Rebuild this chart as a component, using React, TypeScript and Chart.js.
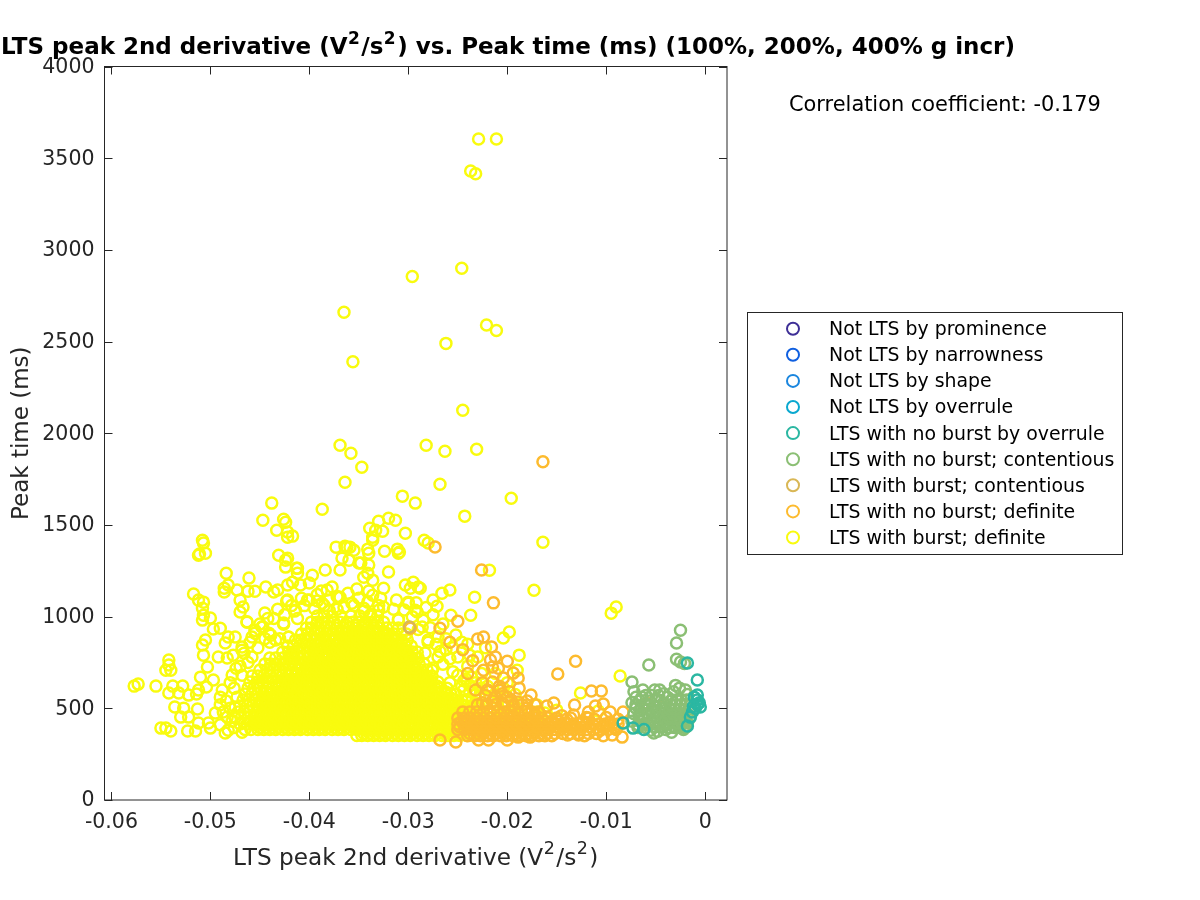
import React, { useEffect, useRef } from "react";
import { Chart, registerables } from "chart.js";

Chart.register(...registerables);

// x values are in units of 1e-4 V^2/s^2, y values in ms
type Pair = [number, number];
type Row = [number, number[]];

const titleParts = ["LTS peak 2nd derivative (V", "2", "/s", "2", ") vs. Peak time (ms) (100%, 200%, 400% g incr)"];
const xAxisParts = ["LTS peak 2nd derivative (V", "2", "/s", "2", ")"];
const yAxisLabel = "Peak time (ms)";
const correlationText = "Correlation coefficient: -0.179";
const xTickValues = [-0.06, -0.05, -0.04, -0.03, -0.02, -0.01, 0];
const xTickLabels = ["-0.06", "-0.05", "-0.04", "-0.03", "-0.02", "-0.01", "0"];
const yTickValues = [0, 500, 1000, 1500, 2000, 2500, 3000, 3500, 4000];
const seriesNames = [
  "Not LTS by prominence",
  "Not LTS by narrowness",
  "Not LTS by shape",
  "Not LTS by overrule",
  "LTS with no burst by overrule",
  "LTS with no burst; contentious",
  "LTS with burst; contentious",
  "LTS with no burst; definite",
  "LTS with burst; definite",
];
const seriesColors = ["#3e2f96", "#0f5fe0", "#1a86de", "#0aa8cf", "#2bb7a2", "#8bbf74", "#d9b755", "#fdbb2e", "#f9fb0e"];

const teal: Pair[] = [[-18,747],[-8,654],[-8,572],[-8,545],[-8,520],[-10,501],[-13,480],[-18,403],[-73,392],[-83,420],[-15,452],[-5,507],[-6,530],[-11,560],[-62,385],[-12,510]];

const greenPairs: Pair[] = [[-25,926],[-29,856],[-29,768],[-25,752],[-21,745],[-57,736],[-74,643],[-72,590],[-70,560],[-63,600],[-60,570],[-51,600],[-46,600],[-47,570],[-30,625],[-26,610],[-20,600],[-32,590],[-18,575],[-74,530],[-70,500],[-66,540],[-62,500],[-56,540],[-52,510],[-48,545],[-42,530],[-38,560],[-72,470],[-67,455],[-62,440],[-58,470],[-55,430],[-50,450],[-46,480],[-42,460],[-74,430],[-68,410],[-60,395],[-55,380],[-52,365],[-46,400],[-42,420],[-40,385],[-34,370],[-30,395],[-22,385],[-19,400],[-68,395],[-48,375],[-70,520],[-66,485],[-64,465],[-60,520],[-58,495],[-54,490],[-50,480],[-48,430],[-44,440],[-44,500],[-40,490],[-40,440],[-66,430],[-62,415],[-57,410],[-52,400],[-48,410],[-42,400],[-64,560],[-54,570],[-42,580]];
const greenRows: Row[] = [
  [395, [-36, -31, -26, -21]],
  [420, [-38, -33, -28, -23, -18]],
  [445, [-36, -31, -26, -21, -16]],
  [470, [-38, -33, -28, -23, -18]],
  [495, [-36, -31, -26, -21, -16]],
  [520, [-35, -30, -25, -20]],
  [545, [-34, -29, -24, -19]],
];

const burstContentious: Pair[] = [[-59,529],[-42,507],[-299,943]];

const orangePairs: Pair[] = [[-226,1254],[-214,1075],[-131,757],[-149,687],[-273,1380],[-298,937],[-250,975],[-268,937],[-230,878],[-224,889],[-216,835],[-212,780],[-200,757],[-217,763],[-224,708],[-215,725],[-209,719],[-194,692],[-189,665],[-215,643],[-208,599],[-188,610],[-176,572],[-189,534],[-200,561],[-132,518],[-115,594],[-105,594],[-103,523],[-111,512],[-118,480],[-96,480],[-83,480],[-153,529],[-160,512],[-133,463],[-96,425],[-84,343],[-94,354],[-128,354],[-139,354],[-177,343],[-189,343],[-200,327],[-219,327],[-229,327],[-252,316],[-268,327],[-83,420],[-106,381],[-164,1845],[-204,665],[-225,640],[-232,600],[-222,570],[-212,560],[-205,530],[-195,510],[-180,500],[-240,690],[-235,760],[-245,820],[-258,860],[-92,395],[-88,440],[-100,450],[-125,425],[-145,460],[-172,468],[-208,620],[-198,590],[-220,600],[-205,580],[-215,540],[-225,530],[-196,545],[-180,540],[-172,520],[-100,400],[-112,440],[-120,450],[-140,440],[-150,445]];
const orangeRows: Row[] = [
  [350, [-240,-233,-227,-220,-214,-207,-201,-194,-188,-181,-175,-168,-162,-155,-122,-103]],
  [363, [-238,-231,-225,-218,-212,-205,-199,-192,-186,-179,-173,-166,-160,-152,-144,-136,-128,-118,-110]],
  [385, [-250,-243,-237,-230,-224,-217,-211,-204,-198,-191,-185,-178,-172,-165,-159,-152,-146,-139,-133,-126,-120,-113,-107,-98,-90]],
  [398, [-248,-241,-235,-228,-222,-215,-209,-202,-196,-189,-183,-176,-170,-163,-157,-150,-144,-137,-131,-124,-116,-104]],
  [415, [-250,-244,-237,-231,-224,-218,-211,-205,-198,-192,-185,-179,-172,-166,-159,-153,-146,-140,-133,-127,-120,-114,-107,-101,-94,-88]],
  [430, [-246,-240,-233,-227,-220,-214,-207,-201,-194,-188,-181,-175,-168,-162,-155,-148]],
  [447, [-250,-243,-237,-230,-224,-217,-211,-204,-198,-191,-185,-178,-172,-165,-159,-150,-136,-118]],
  [480, [-245,-238,-231,-224,-217,-210,-203,-196,-189,-182,-175,-168]],
  [520, [-230,-221,-212,-203,-194,-185]],
];

const yellowPairs: Pair[] = [
  [-229,3605],[-211,3605],[-237,3430],[-232,3415],[-296,2855],[-246,2900],[-365,2660],[-221,2590],[-211,2560],[-262,2490],[-356,2390],[-245,2125],
  [-369,1935],[-282,1935],[-358,1891],[-263,1902],[-231,1913],[-347,1815],[-364,1733],[-268,1722],[-306,1657],[-196,1646],[-293,1619],[-438,1619],[-387,1586],[-243,1548],
  [-339,1482],[-333,1471],[-336,1433],[-326,1466],[-313,1526],[-320,1537],[-330,1520],[-303,1455],[-311,1368],[-309,1352],[-284,1417],[-280,1401],[-424,1515],[-426,1531],[-422,1461],[-433,1471],[-422,1433],[-417,1439],[-447,1526],[-508,1417],[-511,1341],[-431,1335],[-424,1308],[-413,1264],[-364,1384],[-359,1379],[-367,1319],[-360,1308],[-348,1292],[-340,1346],[-341,1368],[-288,1155],[-258,1145],[-266,1128],[-275,1090],[-271,1057],[-257,1008],[-295,1188],[-303,1172],[-164,1406],[-173,1144],[-218,1253],
  [-577,621],[-573,632],[-555,621],[-542,763],[-542,736],[-545,708],[-540,708],[-538,621],[-528,621],[-542,583],[-532,583],[-522,572],[-514,578],[-536,507],[-527,501],[-513,496],[-530,452],[-522,452],[-550,392],[-545,392],[-540,376],[-523,376],[-515,376],[-512,420],[-502,420],[-500,392],[-485,365],[-482,381],[-468,370],[-495,474],[-487,480],[-483,452],[-475,507],[-473,561],
  [-510,670],[-503,725],[-497,654],[-504,616],[-512,600],[-488,600],[-490,561],[-474,719],[-478,681],[-492,780],[-483,774],[-477,790],[-507,790],[-508,845],[-505,872],[-485,856],[-482,889],[-475,889],[-468,835],[-497,932],[-490,937],[-463,970],[-458,889],[-448,943],[-439,899],[-426,959],[-421,889],
  [-500,992],[-508,981],[-507,1008],[-508,1046],[-507,1079],[-512,1090],[-517,1123],[-470,1090],[-467,1052],[-470,1025],[-486,1134],[-486,1155],[-482,1172],[-484,1237],[-461,1210],[-473,1145],[-462,1139],[-455,1139],[-444,1161],[-436,1134],[-432,1145],[-423,1085],[-422,1172],[-417,1188],[-409,1172],[-400,1183],[-384,1254],[-369,1254],[-412,1264],[-424,1270],[-422,1319],[-412,1237],[-397,1226],[-382,1145],[-377,1161],[-361,1128],[-369,1106],[-336,1117],[-325,1155],[-320,1243],[-341,1237],[-336,1199],[-345,1215],[-350,1292],[-340,1281],[-336,1417],[-324,1357],[-310,1346],[-373,1379],[-362,1379],[-355,1362],[-512,1335],[-505,1346],[-507,1401],
  [-298,1155],[-290,1161],[-300,1079],[-304,1036],[-291,1025],[-310,986],[-325,1052],[-341,1079],[-400,1090],[-392,1120],[-405,1060],[-385,1060],[-372,1040],[-355,1060],[-345,1030],[-415,1030],[-425,1010],[-432,1040],[-445,1020],[-436,990],[-450,960],[-412,990],[-380,1090],[-350,1100],[-330,1060],[-315,1040],[-282,1050],[-275,1010],[-285,980],[-265,960],[-252,900],[-270,890],[-280,860],[-290,930],[-345,960],[-265,740],[-275,720],[-262,820],[-250,780],[-240,730],[-255,700],[-242,660],[-232,640],[-246,620],[-258,640],[-270,780],
  [-237,1008],[-233,1106],[-204,883],[-198,916],[-188,790],[-190,708],[-197,398],[-126,583],[-108,485],[-86,676],[-90,1052],[-95,1019],[-170,518],[-170,480],[-170,455],[-162,474],[-150,490],[-200,530],[-212,690],[-220,620],[-228,560],[-222,520],[-215,500],[-205,480],[-195,460],[-215,450],[-205,430],[-218,410],[-225,470],[-210,575],[-200,640],[-230,780],[-222,830],[-240,850],
  [-392,1085],[-372,1110],[-408,1100],[-418,1060],[-388,1140],[-352,1150],[-340,1140],[-328,1100],[-312,1090],[-292,1075],[-296,1000],[-278,940],[-272,850],[-262,880],[-255,830],[-246,860],[-238,790],[-258,770],[-268,810],[-442,990],[-455,925],[-445,880],[-460,860],[-452,830],[-440,860],[-430,880],[-466,800],[-458,780],[-462,750],[-470,730],[-468,680],[-480,640],[-476,610],[-484,540],[-480,500],[-490,520],[-478,430],[-490,410],[-476,395],
  [-422,1090],[-463,972],[-426,965],[-447,945],[-455,910],[-441,910],[-421,888],[-434,872],[-468,817],[-414,1035],[-402,1090],[-387,1073],[-371,1106],[-357,1073],[-330,1035],[-310,981],[-293,1035],[-286,943],[-280,872],[-300,1073],[-283,801],[-276,708],[-395,1045],[-380,1035],[-365,1050],[-345,1045],[-338,1012],
  [-240,545],[-236,500],[-232,530],[-228,505],[-224,445],[-222,395],[-226,360],[-232,405],[-236,430],[-240,470],[-218,470],[-214,425],[-212,385],[-210,520],[-206,455],[-202,405],[-198,480],[-196,430],[-192,510],[-186,470],[-184,420],[-180,445],[-176,400],[-244,600],[-238,590],[-232,575],[-226,610],[-218,555],[-204,610],[-192,575],[-250,680],[-244,650],[-236,670],[-226,690],[-238,625],
];
const yellowRows: Row[] = [
  [352, [-352,-347,-341,-335,-329,-323,-316,-310,-304,-298,-291,-285,-279,-273,-266,-260,-254,-248,-241,-235]],
  [385, [-465,-459,-452,-446,-440,-434,-427,-421,-415,-409,-402,-396,-390,-384,-377,-371,-365,-358,-352,-346,-340,-333,-327,-321,-314,-308,-302,-296,-289,-283,-277,-270,-264,-258,-252,-245,-239,-233,-227]],
  [415, [-470,-463,-457,-451,-444,-438,-432,-426,-419,-413,-407,-400,-394,-388,-382,-375,-369,-363,-356,-350,-344,-337,-331,-325,-318,-312,-306,-300,-293,-287,-281,-274,-268,-262,-255,-249,-243,-236,-230,-224]],
  [447, [-475,-469,-462,-456,-450,-443,-437,-431,-425,-418,-412,-406,-399,-393,-387,-380,-374,-368,-361,-355,-349,-343,-336,-330,-324,-317,-311,-305,-298,-292,-286,-280,-273,-267,-261,-254,-248,-242,-235,-229]],
  [480, [-472,-466,-460,-453,-447,-441,-434,-428,-422,-416,-409,-403,-397,-390,-384,-378,-371,-365,-359,-352,-346,-340,-334,-327,-321,-315,-308,-302,-296,-289,-283,-277,-271,-264,-258,-252,-245,-239,-232]],
  [512, [-470,-463,-457,-451,-445,-438,-432,-426,-419,-413,-407,-401,-394,-388,-382,-375,-369,-363,-356,-350,-344,-338,-331,-325,-319,-312,-306,-300,-293,-287,-281,-275,-268,-262,-256,-249,-243,-237]],
  [545, [-467,-461,-454,-448,-442,-435,-429,-423,-417,-410,-404,-398,-391,-385,-379,-372,-366,-360,-354,-347,-341,-335,-328,-322,-316,-309,-303,-297,-291,-284,-278,-272,-265,-259,-253,-246,-242]],
  [578, [-465,-458,-452,-446,-439,-433,-427,-420,-414,-408,-401,-395,-389,-383,-376,-370,-364,-357,-351,-345,-338,-332,-326,-320,-313,-307,-301,-294,-288,-282,-275,-269,-263,-257,-252]],
  [610, [-462,-456,-450,-443,-437,-431,-424,-418,-412,-406,-399,-393,-387,-380,-374,-368,-361,-355,-349,-343,-336,-330,-324,-317,-311,-305,-298,-292,-286,-280,-273,-267,-261]],
  [643, [-460,-453,-447,-441,-434,-428,-422,-415,-409,-403,-397,-390,-384,-378,-371,-365,-359,-352,-346,-340,-334,-327,-321,-315,-308,-302,-296,-289,-283,-277,-270]],
  [676, [-458,-452,-446,-439,-433,-427,-421,-414,-408,-402,-395,-389,-383,-376,-370,-364,-358,-351,-345,-339,-332,-326,-320,-313,-307,-301,-295,-288,-282,-276]],
  [709, [-450,-443,-437,-431,-424,-418,-412,-405,-399,-393,-387,-380,-374,-368,-361,-355,-349,-342,-336,-330,-324,-317,-311,-305,-298,-292,-287,-281]],
  [742, [-445,-439,-433,-426,-420,-414,-408,-401,-395,-389,-382,-376,-370,-363,-357,-351,-345,-338,-332,-326,-319,-313,-307,-301,-295,-289,-284]],
  [774, [-440,-434,-427,-421,-415,-409,-402,-396,-390,-383,-377,-371,-364,-358,-352,-346,-339,-333,-327,-320,-314,-308,-302,-296,-290]],
  [807, [-427,-421,-415,-409,-402,-396,-390,-383,-377,-371,-364,-358,-352,-346,-339,-333,-327,-320,-314,-308,-302,-296,-291]],
  [840, [-422,-416,-410,-403,-397,-391,-385,-378,-372,-366,-359,-353,-347,-340,-334,-328,-322,-315,-309,-303,-297]],
  [872, [-414,-408,-402,-395,-389,-383,-376,-370,-364,-357,-351,-345,-339,-332,-326,-320,-313,-307,-301]],
  [905, [-408,-402,-395,-389,-383,-377,-370,-364,-358,-351,-345,-339,-333,-326,-320,-314,-307,-302]],
  [938, [-403,-398,-391,-385,-379,-373,-366,-360,-354,-347,-341,-335,-329,-322,-316,-310]],
  [970, [-398,-392,-387,-381,-375,-369,-362,-356,-350,-343,-337,-331,-325]],
  [1003, [-392,-385,-377,-368,-358,-349,-339,-331]],
  // second, offset pass over the solid part of the cloud
  [363, [-345,-339,-333,-327,-321,-314,-308,-302,-296,-289,-283,-277,-271,-264,-258,-252,-246,-239]],
  [396, [-450,-444,-438,-432,-425,-419,-413,-407,-400,-394,-388,-382,-375,-369,-363,-356,-350,-344,-338,-331,-325,-319,-312,-306,-300,-294,-287,-281,-275,-268,-262,-256,-250,-243,-237]],
  [426, [-455,-449,-442,-436,-430,-424,-417,-411,-405,-398,-392,-386,-380,-373,-367,-361,-354,-348,-342,-335,-329,-323,-316,-310,-304,-298,-291,-285,-279,-272,-266,-260,-253,-247,-241,-234]],
  [458, [-454,-448,-441,-435,-429,-423,-416,-410,-404,-397,-391,-385,-378,-372,-366,-359,-353,-347,-341,-334,-328,-322,-315,-309,-303,-296,-290,-284,-278,-271,-265,-259,-252,-246,-240]],
  [491, [-451,-445,-439,-432,-426,-420,-414,-407,-401,-395,-388,-382,-376,-369,-363,-357,-350,-344,-338,-332,-325,-319,-313,-306,-300,-294,-287,-281,-275,-269,-262,-256,-250,-243]],
  [523, [-449,-443,-436,-430,-424,-417,-411,-405,-399,-392,-386,-380,-373,-367,-361,-354,-348,-342,-336,-329,-323,-317,-310,-304,-298,-291,-285,-279,-273,-266,-260,-254,-247]],
  [556, [-446,-440,-433,-427,-421,-415,-408,-402,-396,-389,-383,-377,-370,-364,-358,-352,-345,-339,-333,-326,-320,-314,-307,-301,-295,-289,-282,-276,-270,-263,-257]],
  [589, [-444,-437,-431,-425,-418,-412,-406,-399,-393,-387,-381,-374,-368,-362,-355,-349,-343,-336,-330,-324,-318,-311,-305,-299,-292,-286,-280,-273,-267,-262]],
  [621, [-430,-422,-416,-410,-404,-397,-391,-385,-378,-372,-366,-359,-353,-347,-341,-334,-328,-322,-315,-309,-303,-296,-290,-284,-278,-271]],
  [654, [-426,-419,-413,-407,-400,-394,-388,-382,-375,-369,-363,-356,-350,-344,-337,-331,-325,-319,-312,-306,-300,-293,-287,-281]],
  [687, [-418,-412,-406,-400,-394,-388,-382,-375,-369,-363,-356,-350,-344,-338,-331,-325,-319,-312,-306,-300,-293,-288]],
  [720, [-408,-401,-394,-388,-382,-375,-369,-363,-356,-350,-344,-338,-331,-325,-319,-312,-306,-300,-293]],
  [753, [-404,-396,-388,-381,-374,-368,-362,-355,-349,-343,-336,-330,-324,-318,-311,-305,-299]],
  [785, [-400,-392,-384,-376,-370,-363,-357,-351,-344,-338,-332,-325,-319,-313,-307,-302]],
  [818, [-396,-388,-379,-372,-366,-360,-353,-347,-341,-335,-328,-322,-316,-309,-304]],
  [851, [-390,-381,-371,-365,-359,-352,-346,-340,-333,-327,-321,-315,-310]],
  [884, [-385,-373,-365,-358,-352,-346,-340,-333,-327,-321,-316]],
  [916, [-372,-362,-355,-348,-342,-336,-330,-324]],
];

function toPoints(pairs: Pair[], rows: Row[] = []) {
  const out = pairs.map(([x, y]) => ({ x: x / 10000, y }));
  rows.forEach(([y, xs]) => xs.forEach((x) => out.push({ x: x / 10000, y })));
  return out;
}

const seriesData = [
  [],
  [],
  [],
  [],
  toPoints(teal),
  toPoints(greenPairs, greenRows),
  toPoints(burstContentious),
  toPoints(orangePairs, orangeRows),
  toPoints(yellowPairs, yellowRows),
];

const INK = "#262626";
const FONT = "'DejaVu Sans'";

function drawMath(ctx: any, parts: string[], x: number, baseline: number, size: number, weight: string, supSize: number, raise: number) {
  let cx = x;
  ctx.textBaseline = "alphabetic";
  ctx.textAlign = "left";
  parts.forEach((t) => {
    const isSup = t === "2";
    ctx.font = `${weight} ${isSup ? supSize : size}px ${FONT}`;
    ctx.fillText(t, isSup ? cx + 0.5 : cx, isSup ? baseline - raise : baseline);
    cx += ctx.measureText(t).width + (isSup ? 2 : 0);
  });
}

const decorations = {
  id: "decorations",
  afterDraw(chart: any) {
    const { ctx, chartArea: a, scales } = chart;
    ctx.save();
    ctx.strokeStyle = INK;
    ctx.lineWidth = 1;
    ctx.strokeRect(a.left, a.top, a.right - a.left, a.bottom - a.top);
    ctx.beginPath();
    xTickValues.forEach((v) => {
      const p = Math.round(scales.x.getPixelForValue(v)) + 0.5;
      ctx.moveTo(p, a.bottom);
      ctx.lineTo(p, a.bottom - 8);
      ctx.moveTo(p, a.top);
      ctx.lineTo(p, a.top + 8);
    });
    yTickValues.forEach((v) => {
      const p = Math.round(scales.y.getPixelForValue(v)) + 0.5;
      ctx.moveTo(a.left, p);
      ctx.lineTo(a.left + 8, p);
      ctx.moveTo(a.right, p);
      ctx.lineTo(a.right - 8, p);
    });
    ctx.stroke();

    ctx.fillStyle = "#000";
    drawMath(ctx, titleParts, 1, 54, 23, "bold", 17, 10.5);
    ctx.fillStyle = INK;
    drawMath(ctx, xAxisParts, 233, 864.5, 23.2, "normal", 17.5, 10.5);

    ctx.fillStyle = "#000";
    ctx.textBaseline = "middle";
    ctx.textAlign = "left";
    ctx.font = `20.9px ${FONT}`;
    ctx.fillText(correlationText, 789, 105.5);

    // legend
    ctx.fillStyle = "#fff";
    ctx.strokeStyle = INK;
    ctx.lineWidth = 1;
    ctx.fillRect(747.5, 312.5, 375, 242);
    ctx.strokeRect(747.5, 312.5, 375, 242);
    ctx.font = `18.9px ${FONT}`;
    chart.data.datasets.forEach((d: any, i: number) => {
      const y = 328.7 + i * 26.1;
      ctx.beginPath();
      ctx.arc(793, y, 6, 0, Math.PI * 2);
      ctx.strokeStyle = d.borderColor;
      ctx.lineWidth = 2;
      ctx.stroke();
      ctx.fillStyle = "#000";
      ctx.fillText(d.label, 829, y + 1.5);
    });
    ctx.restore();
  },
};

export default function App() {
  const ref = useRef<HTMLCanvasElement>(null);
  useEffect(() => {
    document.body.style.margin = "0";
    const chart = new Chart(ref.current as HTMLCanvasElement, {
      type: "scatter",
      data: {
        datasets: seriesNames.map((label, i) => ({
          label,
          data: seriesData[i],
          borderColor: seriesColors[i],
          backgroundColor: "rgba(0,0,0,0)",
          borderWidth: 2.5,
          pointRadius: 5.5,
          pointHoverRadius: 5.5,
          showLine: false,
        })),
      },
      options: {
        animation: false,
        responsive: false,
        devicePixelRatio: 1,
        layout: { padding: { left: 0, top: 66.5, right: 473, bottom: 0 } },
        plugins: {
          legend: { display: false },
          tooltip: { enabled: false },
          title: { display: false },
        },
        scales: {
          x: {
            type: "linear",
            min: -0.0607,
            max: 0.0022,
            afterBuildTicks: (s: any) => {
              s.ticks = xTickValues.map((value) => ({ value }));
            },
            afterFit: (s: any) => {
              s.height = 100;
            },
            grid: { display: false, tickLength: 0 },
            border: { display: false },
            ticks: {
              autoSkip: false,
              maxRotation: 0,
              padding: 10,
              color: INK,
              font: { family: FONT, size: 20.5 },
              callback: (v: any) => xTickLabels[xTickValues.findIndex((t) => Math.abs(t - v) < 1e-6)],
            },
          },
          y: {
            min: 0,
            max: 4000,
            afterBuildTicks: (s: any) => {
              s.ticks = yTickValues.map((value) => ({ value }));
            },
            afterFit: (s: any) => {
              s.width = 104.5;
            },
            grid: { display: false, tickLength: 0 },
            border: { display: false },
            ticks: {
              padding: 10,
              labelOffset: 1,
              color: INK,
              font: { family: FONT, size: 20.5 },
              callback: (v: any) => String(v),
            },
            title: {
              display: true,
              text: yAxisLabel,
              color: INK,
              font: { family: FONT, size: 23 },
              padding: { top: 8 },
            },
          },
        },
      },
      plugins: [decorations],
    } as any);
    return () => chart.destroy();
  }, []);
  return (
    <div style={{ position: "absolute", left: 0, top: 0, width: 1200, height: 900 }}>
      <canvas ref={ref} width={1200} height={900} />
    </div>
  );
}
